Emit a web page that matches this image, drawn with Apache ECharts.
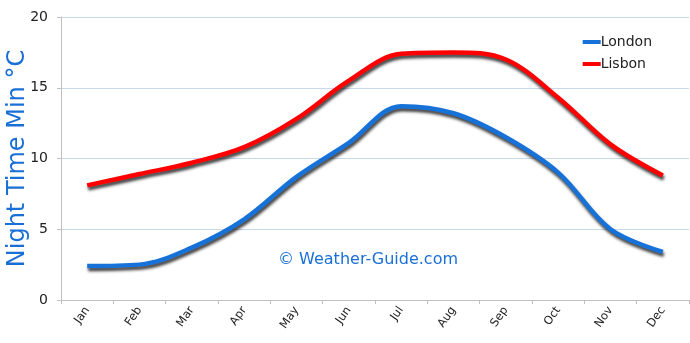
<!DOCTYPE html>
<html>
<head>
<meta charset="utf-8">
<script src="https://cdn.jsdelivr.net/npm/echarts@6/dist/echarts.min.js"></script>
<style>
  html, body { margin: 0; padding: 0; background: #fff; }
  #chart { width: 690px; height: 343px; }
</style>
</head>
<body>
<div id="chart"></div>
<script>
// Monthly average night-time minimum temperatures (°C)
const months = ['Jan', 'Feb', 'Mar', 'Apr', 'May', 'Jun', 'Jul', 'Aug', 'Sep', 'Oct', 'Nov', 'Dec'];
const london = [2.4, 2.5, 3.7, 5.7, 8.7, 11.1, 13.7, 13.2, 11.5, 9.0, 5.0, 3.4];
const lisbon = [8.1, 8.9, 9.7, 10.8, 12.8, 15.5, 17.4, 17.5, 17.0, 14.3, 11.0, 8.8];
const yTicks = [0, 5, 10, 15, 20];

const FONT = 'DejaVu Sans';
const chart = echarts.init(document.getElementById('chart'));

function lineSeries(name, data, color) {
  return {
    name: name,
    type: 'line',
    data: data,
    smooth: 0.35,
    showSymbol: false,
    symbol: 'none',
    lineStyle: {
      color: color,
      width: 4.5,
      shadowColor: 'rgba(0,0,0,0.75)',
      shadowBlur: 3,
      shadowOffsetX: 1,
      shadowOffsetY: 3
    },
    itemStyle: { color: color },
    z: 3
  };
}

chart.setOption({
  animation: false,
  backgroundColor: '#ffffff',
  grid: { left: 61, right: 1, top: 17, bottom: 43, containLabel: false, outerBoundsMode: 'none' },
  graphic: [{
    type: 'text',
    left: 278,
    top: 252,
    style: {
      text: '© Weather-Guide.com',
      fill: '#1a6fd6',
      font: '16px "' + FONT + '"'
    },
    z: 1
  }],
  legend: {
    orient: 'vertical',
    right: 33,
    top: 30,
    itemWidth: 18,
    itemHeight: 4,
    itemGap: 8,
    icon: 'rect',
    textStyle: { color: '#222', fontSize: 14, fontFamily: FONT, padding: [0, 0, 0, -5] },
    data: ['London', 'Lisbon']
  },
  xAxis: {
    type: 'category',
    data: months,
    boundaryGap: true,
    axisLine: { show: true, lineStyle: { color: '#c0c0c0', width: 1 } },
    axisTick: { show: true, length: 4, lineStyle: { color: '#c0c0c0' } },
    axisLabel: {
      rotate: 55,
      color: '#222',
      fontSize: 11.5,
      fontFamily: FONT,
      margin: 8
    },
    splitLine: { show: false }
  },
  yAxis: {
    type: 'value',
    min: yTicks[0],
    max: yTicks[yTicks.length - 1],
    interval: yTicks[1] - yTicks[0],
    name: 'Night Time Min °C',
    nameLocation: 'middle',
    nameGap: 31,
    nameRotate: 90,
    nameMoveOverlap: false,
    nameTextStyle: { color: '#1a6fd6', fontSize: 24, fontFamily: FONT },
    axisLine: { show: true, lineStyle: { color: '#c0c0c0', width: 1 } },
    axisTick: { show: true, length: 4, lineStyle: { color: '#c0c0c0' } },
    axisLabel: { color: '#222', fontSize: 14, fontFamily: FONT, margin: 13 },
    splitLine: { show: true, lineStyle: { color: '#c9d9ec', width: 1 } }
  },
  series: [
    lineSeries('London', london, '#1672d8'),
    lineSeries('Lisbon', lisbon, '#ff0000')
  ]
});
</script>
</body>
</html>
